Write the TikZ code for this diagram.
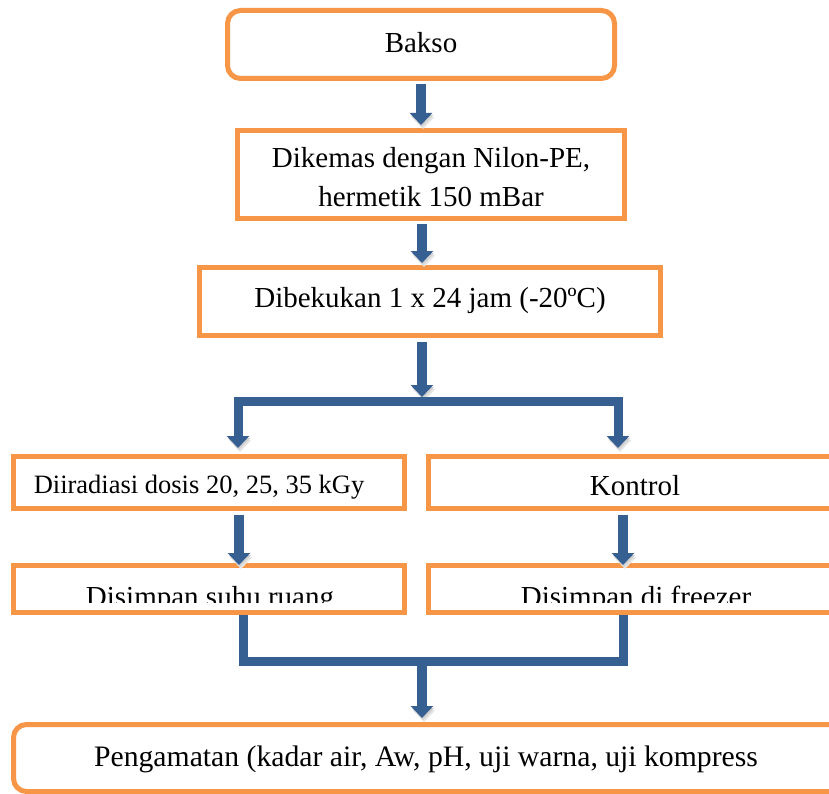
\documentclass[tikz,border=0pt]{standalone}
\usepackage{fontspec}
\setmainfont{Liberation Serif}
\usetikzlibrary{arrows.meta}
\definecolor{boxorange}{HTML}{F79646}
\definecolor{flowblue}{HTML}{376092}
\begin{document}
\begin{tikzpicture}[x=1pt,y=-1pt,
  box/.style={draw=boxorange,line width=5pt,fill=white,minimum width=#1,inner sep=0pt,outer sep=2.5pt},
  rbox/.style={box=#1,rounded corners=13pt},
  lbl/.style={anchor=base,inner sep=0pt,font=\fontsize{29}{35}\selectfont},
  shadowed/.style={preaction={draw=black!10,transform canvas={shift={(2pt,-4pt)}}},
                   preaction={draw=black!18,transform canvas={shift={(1pt,-2pt)}}}},
  flow/.style={draw=flowblue,line width=10pt,shadowed,-{Triangle[width=22pt,length=12pt]}},
  branch/.style={draw=flowblue,line width=9pt,line join=miter,shadowed},
]
\useasboundingbox (0,0) rectangle (829,794);
\clip (0,0) rectangle (829,794);
\fill[white] (0,0) rectangle (829,794);

% boxes
\node[rbox=387pt,minimum height=68pt] (bakso) at (421,44.5) {};
\node[box=387pt,minimum height=88pt] (kemas) at (431,174.5) {};
\node[box=461pt,minimum height=68pt] (beku) at (430,301.5) {};
\node[box=391pt,minimum height=52pt] (irad) at (209,482.5) {};
\node[box=431.5pt,minimum height=52pt] (kontrol) at (644.25,482.5) {};
\node[box=391pt,minimum height=47pt] (simpanL) at (209,589) {};
\node[box=431.5pt,minimum height=47pt] (simpanR) at (644.25,589) {};
\node[rbox=856.5pt,minimum height=67pt] (amat) at (441.75,758) {};

% texts
\node[lbl] (tbakso) at (421,53) {Bakso};
\node[lbl] (tkemasA) at (431,168) {Dikemas dengan Nilon-PE,};
\node[lbl] (tkemasB) at (431,207) {hermetik 150 mBar};
\node[lbl] (tbeku) at (430,307) {Dibekukan 1 x 24 jam (-20ºC)};
\node[lbl,font=\fontsize{26.5}{32}\selectfont] (tirad) at (199,493) {Diiradiasi dosis 20, 25, 35 kGy};
\node[lbl] (tkontrol) at (635,495) {Kontrol};
\begin{scope}
  \clip (0,0) rectangle (829,602);
  \node[lbl] (tsimpanL) at (210,606) {Disimpan suhu ruang};
  \node[lbl] (tsimpanR) at (636,606) {Disimpan di freezer};
\end{scope}
\node[lbl,font=\fontsize{29.7}{35}\selectfont] (tamat) at (426,766) {Pengamatan (kadar air, Aw, pH, uji warna, uji kompress};

% coordinates for connector lanes
\coordinate (mid) at (422,0);
\coordinate (split) at (422,397);
\coordinate (splitL) at (238,401);
\coordinate (splitR) at (618,401);
\coordinate (tipL) at (238,448);
\coordinate (tipR) at (618,448);
\coordinate (laneL) at (239,0);
\coordinate (laneR) at (623,0);
\coordinate (mergeL) at (243,661);
\coordinate (mergeR) at (623,661);
\coordinate (merge) at (422,661);

% connectors
\draw[flow,shorten <=3pt,shorten >=3pt] (bakso.south) -- (bakso.south |- kemas.north);
\draw[flow,shorten <=3pt,shorten >=2pt] (kemas.south -| mid) -- (beku.north -| mid);
\draw[flow,shorten <=4pt] (beku.south -| mid) -- (split);
\draw[branch,{Triangle[width=22pt,length=12pt]}-{Triangle[width=22pt,length=12pt]}]
  (tipL) -- (splitL) -- (splitR) -- (tipR);
\draw[flow,shorten <=4pt,shorten >=-2pt] (irad.south -| laneL) -- (simpanL.north -| laneL);
\draw[flow,shorten <=4pt,shorten >=-2pt] (kontrol.south -| laneR) -- (simpanR.north -| laneR);
\draw[branch] (simpanL.south -| mergeL) -- (mergeL) -- (mergeR) -- (simpanR.south -| mergeR);
\draw[flow,shorten <=-1pt,shorten >=4pt] (merge) -- (amat.north -| merge);
\end{tikzpicture}
\end{document}
